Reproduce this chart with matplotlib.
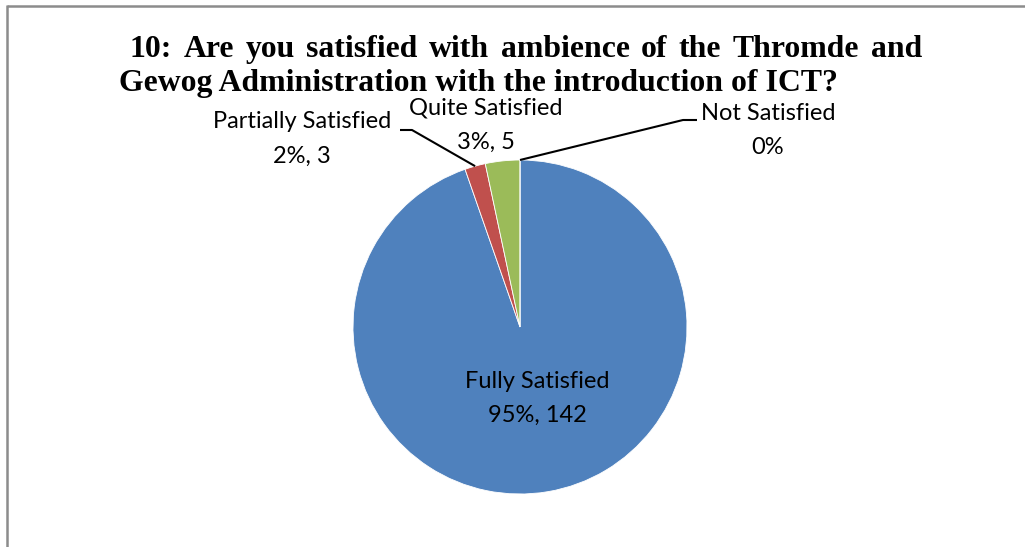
"""Pie chart: satisfaction with Thromde and Gewog administration ambience."""

import matplotlib
matplotlib.use("Agg")
import matplotlib.pyplot as plt
import numpy as np

W, H = 1025, 547

labels = ["Fully Satisfied", "Partially Satisfied", "Quite Satisfied", "Not Satisfied"]
counts = [142, 3, 5, 0]
pct_text = ["95%", "2%", "3%", "0%"]
colors = ["#4F81BD", "#C0504D", "#9BBB59", "#8064A2"]

title_lines = [
    "10: Are you satisfied with ambience of the Thromde and",
    "Gewog Administration with the introduction of ICT?",
]

label_font = "Lato"
title_font = "Liberation Serif"

fig = plt.figure(figsize=(W / 100, H / 100), dpi=100)
ax = fig.add_axes([0, 0, 1, 1])


def sy(y):
    # screen-style y (from the top) to axis y
    return H - y


# pie: clockwise from 12 o'clock
cx, cy, r = 520, sy(327), 167
wedges, _ = ax.pie(
    counts, colors=colors, startangle=90, counterclock=False,
    center=(cx, cy), radius=r,
    wedgeprops=dict(edgecolor="white", linewidth=0.6),
)
ax.set_xlim(0, W)
ax.set_ylim(0, H)
ax.set_aspect("equal")
ax.axis("off")


def edge_point(w, frac=0.5):
    a = np.deg2rad(w.theta1 + (w.theta2 - w.theta1) * frac)
    return cx + r * np.cos(a), cy + r * np.sin(a)


# data labels
fs = 17
label_pos = [(537, 381), (302, 122), (486, 108), (768, 113)]
for name, n, p, (lx, ly) in zip(labels, counts, pct_text, label_pos):
    second = p if n == 0 else f"{p}, {n}"
    ax.text(lx, sy(ly), name, ha="center", va="center", fontsize=fs,
            family=label_font, color="black")
    ax.text(lx, sy(ly + 34), second, ha="center", va="center", fontsize=fs,
            family=label_font, color="black")

# leader lines for the small slices
px, py = edge_point(wedges[1])
ax.plot([400, 412, px], [sy(130), sy(130), py], color="black", lw=1.5,
        solid_capstyle="butt")
nx, ny = edge_point(wedges[3])
ax.plot([nx, 683, 697], [ny, sy(120), sy(120)], color="black", lw=1.5,
        solid_capstyle="butt")

# title, first line justified between fixed margins
tfs = 22.9
fig.canvas.draw()
renderer = fig.canvas.get_renderer()
words = title_lines[0].split(" ")
x0, x1 = 130, 922
widths = []
for wd in words:
    t = ax.text(0, 0, wd, fontsize=tfs, family=title_font, weight="bold")
    widths.append(t.get_window_extent(renderer).width)
    t.remove()
gap = (x1 - x0 - sum(widths)) / (len(words) - 1)
x = x0
for wd, w in zip(words, widths):
    ax.text(x, sy(57), wd, ha="left", va="baseline", fontsize=tfs,
            family=title_font, weight="bold")
    x += w + gap
ax.text(119, sy(91), title_lines[1], ha="left", va="baseline", fontsize=tfs,
        family=title_font, weight="bold")

# chart-area frame (top and left edges only)
ax.plot([7, W + 5], [sy(6), sy(6)], color="#8c8c8c", lw=1.8, solid_capstyle="butt")
ax.plot([7, 7], [sy(5), -5], color="#8c8c8c", lw=1.8, solid_capstyle="butt")

fig.savefig("out.png", dpi=100, facecolor="white")
